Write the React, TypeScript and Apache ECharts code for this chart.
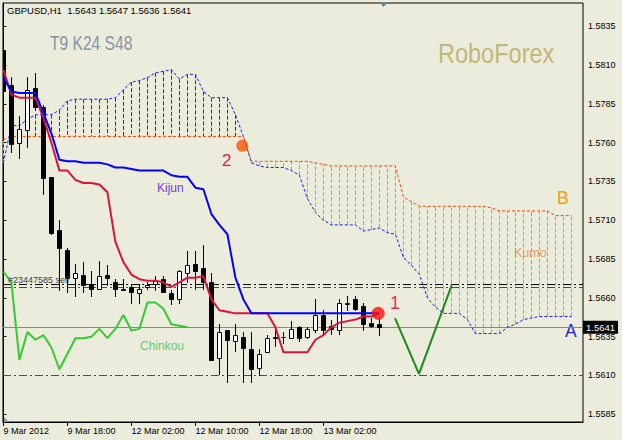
import React, { useEffect, useRef } from "react";
import * as echarts from "echarts";

// ---------- data ----------
const X_LABEL_BARS = [0, 8, 16, 24, 32, 40];
const X_LABELS = ["9 Mar 2012", "9 Mar 18:00", "12 Mar 02:00", "12 Mar 10:00", "12 Mar 18:00", "13 Mar 02:00"];
const Y_TICKS = ["1.5585", "1.5610", "1.5635", "1.5660", "1.5685", "1.5710", "1.5735", "1.5760", "1.5785", "1.5810", "1.5835"];

const OPEN = [1.5820, 1.5797, 1.5760, 1.5768, 1.5795, 1.5783, 1.5738, 1.5704, 1.5691, 1.5673, 1.5675, 1.5669, 1.5666, 1.5675, 1.5670, 1.5665, 1.5667, 1.5663, 1.5667, 1.5669, 1.5672, 1.5663, 1.5659, 1.5676, 1.5682, 1.5679, 1.5670, 1.5621, 1.5639, 1.5632, 1.5635, 1.5627, 1.5615, 1.5625, 1.5635, 1.5635, 1.5634, 1.5641, 1.5635, 1.5639, 1.5649, 1.5642, 1.5639, 1.5656, 1.5659, 1.5655, 1.5644, 1.5643];
const HIGH = [1.5821, 1.5802, 1.5777, 1.5802, 1.5805, 1.5784, 1.5738, 1.5710, 1.5692, 1.5682, 1.5683, 1.5677, 1.5684, 1.5681, 1.5672, 1.5672, 1.5669, 1.5669, 1.5670, 1.5674, 1.5674, 1.5665, 1.5678, 1.5690, 1.5690, 1.5694, 1.5676, 1.5643, 1.5639, 1.5643, 1.5638, 1.5638, 1.5627, 1.5636, 1.5640, 1.5638, 1.5645, 1.5642, 1.5641, 1.5659, 1.5652, 1.5646, 1.5659, 1.5661, 1.5661, 1.5657, 1.5647, 1.5647];
const LOW = [1.5791, 1.5754, 1.5750, 1.5757, 1.5781, 1.5727, 1.5701, 1.5665, 1.5664, 1.5661, 1.5664, 1.5661, 1.5666, 1.5668, 1.5661, 1.5665, 1.5657, 1.5657, 1.5666, 1.5665, 1.5664, 1.5656, 1.5657, 1.5670, 1.5666, 1.5666, 1.5620, 1.5611, 1.5606, 1.5626, 1.5606, 1.5606, 1.5610, 1.5625, 1.5629, 1.5631, 1.5634, 1.5632, 1.5634, 1.5638, 1.5637, 1.5637, 1.5637, 1.5652, 1.5652, 1.5639, 1.5641, 1.5636];
const CLOSE = [1.5793, 1.5759, 1.5769, 1.5794, 1.5783, 1.5737, 1.5702, 1.5692, 1.5673, 1.5676, 1.5668, 1.5666, 1.5674, 1.5673, 1.5666, 1.5666, 1.5664, 1.5666, 1.5668, 1.5671, 1.5664, 1.5659, 1.5677, 1.5681, 1.5677, 1.5670, 1.5620, 1.5638, 1.5633, 1.5636, 1.5628, 1.5614, 1.5624, 1.5634, 1.5634, 1.5635, 1.5640, 1.5634, 1.5640, 1.5649, 1.5639, 1.5640, 1.5657, 1.5657, 1.5653, 1.5643, 1.5642, 1.5641];

const TENKAN = [1.5807, 1.5791, 1.5789, 1.5789, 1.5789, 1.5776, 1.5760, 1.5742, 1.5742, 1.5736, 1.5734, 1.5734, 1.5733, 1.5728, 1.5696, 1.5683, 1.5675, 1.5672, 1.5671, 1.5671, 1.5670, 1.5667, 1.5670, 1.5673, 1.5673, 1.5674, 1.5659, 1.5652, 1.5651, 1.5650, 1.5650, 1.5650, 1.5650, 1.5650, 1.5641, 1.5625, 1.5625, 1.5625, 1.5625, 1.5633, 1.5636, 1.5641, 1.5644, 1.5645, 1.5646, 1.5648, 1.5648, 1.5650];
const KIJUN = [1.5802, 1.5793, 1.5792, 1.5792, 1.5792, 1.5779, 1.5766, 1.5749, 1.5748, 1.5748, 1.5747, 1.5747, 1.5747, 1.5746, 1.5744, 1.5744, 1.5743, 1.5742, 1.5742, 1.5742, 1.5742, 1.5739, 1.5738, 1.5738, 1.5731, 1.5730, 1.5714, 1.5707, 1.5701, 1.5673, 1.5659, 1.5650, 1.5650, 1.5650, 1.5650, 1.5650, 1.5650, 1.5650, 1.5650, 1.5650, 1.5650, 1.5650, 1.5650, 1.5650, 1.5650, 1.5650, 1.5650, 1.5650];
const SENKOU_A = [1.5747, 1.5771, 1.5771, 1.5775, 1.5778, 1.5778, 1.5778, 1.5781, 1.5787, 1.5788, 1.5788, 1.5788, 1.5788, 1.5788, 1.5789, 1.5794, 1.5799, 1.5800, 1.5802, 1.5805, 1.5806, 1.5807, 1.5801, 1.5804, 1.5804, 1.5793, 1.5789, 1.5789, 1.5789, 1.5778, 1.5764, 1.5747, 1.5745, 1.5744, 1.5744, 1.5744, 1.5742, 1.5739, 1.5724, 1.5715, 1.5710, 1.5707, 1.5707, 1.5707, 1.5707, 1.5703, 1.5704, 1.5705, 1.5702, 1.5701, 1.5686, 1.5681, 1.5675, 1.5660, 1.5654, 1.5650, 1.5650, 1.5650, 1.5646, 1.5637, 1.5637, 1.5637, 1.5637, 1.5641, 1.5643, 1.5646, 1.5647, 1.5648, 1.5648, 1.5648, 1.5648, 1.5648];
const SENKOU_B = [1.5762, 1.5764, 1.5764, 1.5764, 1.5764, 1.5764, 1.5764, 1.5764, 1.5764, 1.5764, 1.5764, 1.5764, 1.5764, 1.5764, 1.5764, 1.5764, 1.5764, 1.5764, 1.5764, 1.5764, 1.5764, 1.5764, 1.5764, 1.5764, 1.5764, 1.5764, 1.5764, 1.5764, 1.5764, 1.5764, 1.5764, 1.5748, 1.5748, 1.5748, 1.5748, 1.5748, 1.5748, 1.5748, 1.5748, 1.5747, 1.5746, 1.5745, 1.5745, 1.5745, 1.5745, 1.5745, 1.5745, 1.5745, 1.5745, 1.5745, 1.5725, 1.5722, 1.5719, 1.5719, 1.5719, 1.5719, 1.5719, 1.5719, 1.5719, 1.5719, 1.5719, 1.5718, 1.5716, 1.5716, 1.5716, 1.5716, 1.5716, 1.5716, 1.5716, 1.5713, 1.5713, 1.5713];
const CHINKOU_SHIFT = 24;

const LAST_PRICE = 1.5641;
const LEVELS = [1.5641, 1.561, 1.5669, 1.5667]; // last price, support, order open, order stop
const V_BARS = [48.95, 51.95, 56.03];
const V_PRICES = [1.5647, 1.5611, 1.5668];
const TWIST_POINT = [29.86, 1.5758];
const CROSS_POINT = [46.86, 1.565];

// ---------- style ----------
const BG = "#ECECDC";
const FONT = "'Liberation Sans', Arial, sans-serif";
const BLUE = "#1f1fff";
const ORANGE_LINE = "#FF4500";
const ORANGE_HATCH = "#F08858";
const X_MIN = -0.05;
const X_MAX = 72.45;
const DASH_DOT = [8, 3, 2, 3];
const LEVEL_COLORS = ["#888888", "#FF0000", "#000000", "#FF0000"];
const LEVEL_DASHED = [false, true, true, true];

export default function App() {
  const ref = useRef<HTMLDivElement>(null);

  useEffect(() => {
    document.body.style.margin = "0";
    document.body.style.background = BG;
    const chart = echarts.init(ref.current!, null, { renderer: "svg" });

    const candles = OPEN.map((o, i) => [i, o, CLOSE[i], LOW[i], HIGH[i]]);
    const hatch = SENKOU_A.map((a, i) => [i, a, SENKOU_B[i]]);
    const chinkou = CLOSE.slice(CHINKOU_SHIFT).map((c, i) => [i, c]);
    const xy = (arr: number[]) => arr.map((v, i) => [i, v]);

    const option: any = {
      animation: false,
      backgroundColor: BG,
      grid: { left: 3, right: 39, top: 3, bottom: 18, show: true, borderColor: "#000", borderWidth: 1, backgroundColor: "transparent" },
      xAxis: {
        type: "value",
        min: X_MIN,
        max: X_MAX,
        axisLine: { show: true, lineStyle: { color: "#000", width: 1 } },
        axisTick: { show: true, customValues: X_LABEL_BARS, length: 4, lineStyle: { color: "#000" } },
        axisLabel: {
          customValues: X_LABEL_BARS,
          formatter: (v: number) => X_LABELS[X_LABEL_BARS.indexOf(Math.round(v))] ?? "",
          fontSize: 9,
          fontFamily: FONT,
          color: "#000",
          align: "left",
          margin: 4,
        },
        splitLine: { show: false },
      },
      yAxis: {
        type: "value",
        position: "right",
        min: 1.558,
        max: 1.585,
        axisLine: { show: true, lineStyle: { color: "#000", width: 1 } },
        axisTick: { show: true, customValues: Y_TICKS.map(Number), length: 3, lineStyle: { color: "#000" } },
        axisLabel: {
          customValues: Y_TICKS.map(Number),
          formatter: (v: number) => v.toFixed(4),
          fontSize: 9,
          fontFamily: FONT,
          color: "#000",
          margin: 5,
        },
        splitLine: { show: false },
      },
      series: [
        {
          type: "custom",
          name: "kumo",
          z: 1,
          clip: true,
          data: hatch,
          encode: { x: 0, y: [1, 2] },
          renderItem: (params: any, api: any) => {
            const i = api.value(0);
            const a = api.value(1);
            const b = api.value(2);
            const pa = api.coord([i, a]);
            const pb = api.coord([i, b]);
            const x = Math.round(pa[0]) + 0.5;
            return {
              type: "line",
              shape: { x1: x, y1: pa[1], x2: x, y2: pb[1] },
              style: { stroke: a >= b ? BLUE : ORANGE_HATCH, lineWidth: 1, lineDash: [4, 2] },
            };
          },
        },
        {
          type: "line",
          name: "Senkou A",
          z: 2,
          data: xy(SENKOU_A),
          symbol: "none",
          lineStyle: { color: BLUE, width: 1, type: [3, 2] },
        },
        {
          type: "line",
          name: "Senkou B",
          z: 2,
          data: xy(SENKOU_B),
          symbol: "none",
          lineStyle: { color: ORANGE_LINE, width: 1, type: [3, 2] },
        },
        {
          type: "custom",
          name: "levels",
          z: 2,
          silent: true,
          data: LEVELS.map((v, i) => [i, v]),
          encode: { x: 0, y: 1 },
          renderItem: (params: any, api: any) => {
            const k = Math.round(api.value(0));
            const cs = params.coordSys;
            const y = Math.round(api.coord([0, api.value(1)])[1]) + 0.5;
            const color = LEVEL_COLORS[k];
            return {
              type: "line",
              shape: { x1: cs.x, y1: y, x2: cs.x + cs.width, y2: y },
              style: LEVEL_DASHED[k]
                ? { stroke: color, fill: null, lineWidth: 1, lineDash: DASH_DOT }
                : { stroke: color, fill: null, lineWidth: 1 },
            };
          },
        },
        {
          type: "line",
          name: "last price",
          z: 6,
          silent: true,
          data: [[X_MIN, LAST_PRICE], [X_MAX, LAST_PRICE]],
          symbol: "none",
          lineStyle: { opacity: 0 },
          endLabel: {
            show: true,
            formatter: LAST_PRICE.toFixed(4),
            color: "#fff",
            backgroundColor: "#000",
            padding: [2, 3, 1, 3],
            fontSize: 9.5,
            fontFamily: FONT,
            distance: 0,
          },
        },
        {
          type: "custom",
          name: "candles",
          z: 3,
          clip: true,
          data: candles,
          encode: { x: 0, y: [1, 2, 3, 4] },
          renderItem: (params: any, api: any) => {
            const i = api.value(0);
            const o = api.value(1);
            const c = api.value(2);
            const l = api.value(3);
            const h = api.value(4);
            const po = api.coord([i, o]);
            const pc = api.coord([i, c]);
            const pl = api.coord([i, l]);
            const ph = api.coord([i, h]);
            const x = Math.round(po[0]) + 0.5;
            const yTop = Math.round(Math.min(po[1], pc[1])) + 0.5;
            const yBot = Math.round(Math.max(po[1], pc[1])) + 0.5;
            const bull = c > o;
            return {
              type: "group",
              children: [
                { type: "line", shape: { x1: x, y1: Math.round(ph[1]), x2: x, y2: Math.round(pl[1]) + 1 }, style: { stroke: "#000", lineWidth: 1 } },
                { type: "rect", shape: { x: x - 2, y: yTop, width: 4, height: yBot - yTop }, style: { fill: bull ? "#fff" : "#000", stroke: "#000", lineWidth: 1 } },
              ],
            };
          },
        },
        {
          type: "line",
          name: "Chinkou",
          z: 4,
          data: chinkou,
          symbol: "none",
          lineStyle: { color: "#33CC33", width: 2 },
        },
        {
          type: "line",
          name: "Tenkan",
          z: 4,
          data: xy(TENKAN),
          symbol: "none",
          lineStyle: { color: "#DC143C", width: 2 },
        },
        {
          type: "line",
          name: "Kijun",
          z: 4,
          data: xy(KIJUN),
          symbol: "none",
          lineStyle: { color: "#0000FF", width: 2 },
        },
        {
          type: "line",
          name: "forecast",
          z: 4,
          data: V_BARS.map((b, i) => [b, V_PRICES[i]]),
          symbol: "none",
          lineStyle: { color: "#1a8a1a", width: 2 },
        },
        {
          type: "scatter",
          z: 5,
          data: [TWIST_POINT],
          symbolSize: 12,
          itemStyle: { color: "#FF5500" },
        },
        {
          type: "scatter",
          z: 5,
          data: [CROSS_POINT],
          symbolSize: 13,
          itemStyle: { color: "#FF1010" },
        },
      ],
      graphic: [
        { type: "text", x: 7, y: 10.7, style: { text: "GBPUSD,H1  1.5643 1.5647 1.5636 1.5641", fill: "#000", fontSize: 9.5, fontFamily: FONT, align: "left", verticalAlign: "middle" } },
        { type: "text", x: 50, y: 43.2, scaleX: 0.8, style: { text: "T9 K24 S48", fill: "#8494A8", fontSize: 19.5, fontFamily: FONT, align: "left", verticalAlign: "middle" } },
        { type: "text", x: 438, y: 53.5, scaleX: 0.84, style: { text: "RoboForex", fill: "#C2B77A", fontSize: 28, fontFamily: FONT, align: "left", verticalAlign: "middle" } },
        { type: "text", x: 157, y: 188.3, style: { text: "Kijun", fill: "#7038E8", fontSize: 12, fontFamily: FONT, align: "left", verticalAlign: "middle" } },
        { type: "text", x: 140, y: 345.8, style: { text: "Chinkou", fill: "#66CC66", fontSize: 12, fontFamily: FONT, align: "left", verticalAlign: "middle" } },
        { type: "text", x: 514, y: 252.8, style: { text: "Kumo", fill: "#E2A060", fontSize: 12.5, fontFamily: FONT, align: "left", verticalAlign: "middle" } },
        { type: "text", x: 565, y: 330.7, style: { text: "A", fill: "#2828D8", fontSize: 17.5, fontFamily: FONT, align: "left", verticalAlign: "middle" } },
        { type: "text", x: 557, y: 198, style: { text: "B", fill: "#FF9900", fontSize: 17.5, fontFamily: FONT, align: "left", verticalAlign: "middle" } },
        { type: "text", x: 390, y: 302.7, style: { text: "1", fill: "#E83060", fontSize: 18, fontFamily: FONT, align: "left", verticalAlign: "middle" } },
        { type: "text", x: 222, y: 160, style: { text: "2", fill: "#D8204C", fontSize: 17, fontFamily: FONT, align: "left", verticalAlign: "middle" } },
        { type: "text", x: 8, y: 280, z: 10, style: { text: "#23447585 sell", fill: "#404040", fontSize: 9, fontFamily: FONT, align: "left", verticalAlign: "middle" } },
        { type: "polygon", shape: { points: [[379, 2], [388, 2], [383.5, 7]] }, style: { fill: "#708090" } },
        { type: "polygon", shape: { points: [[3, 416], [3, 422], [9, 422]] }, style: { fill: "#8899AA" } },
      ],
    };

    chart.setOption(option);
    return () => chart.dispose();
  }, []);

  return <div ref={ref} style={{ position: "absolute", left: 0, top: 0, width: 622, height: 440 }} />;
}
